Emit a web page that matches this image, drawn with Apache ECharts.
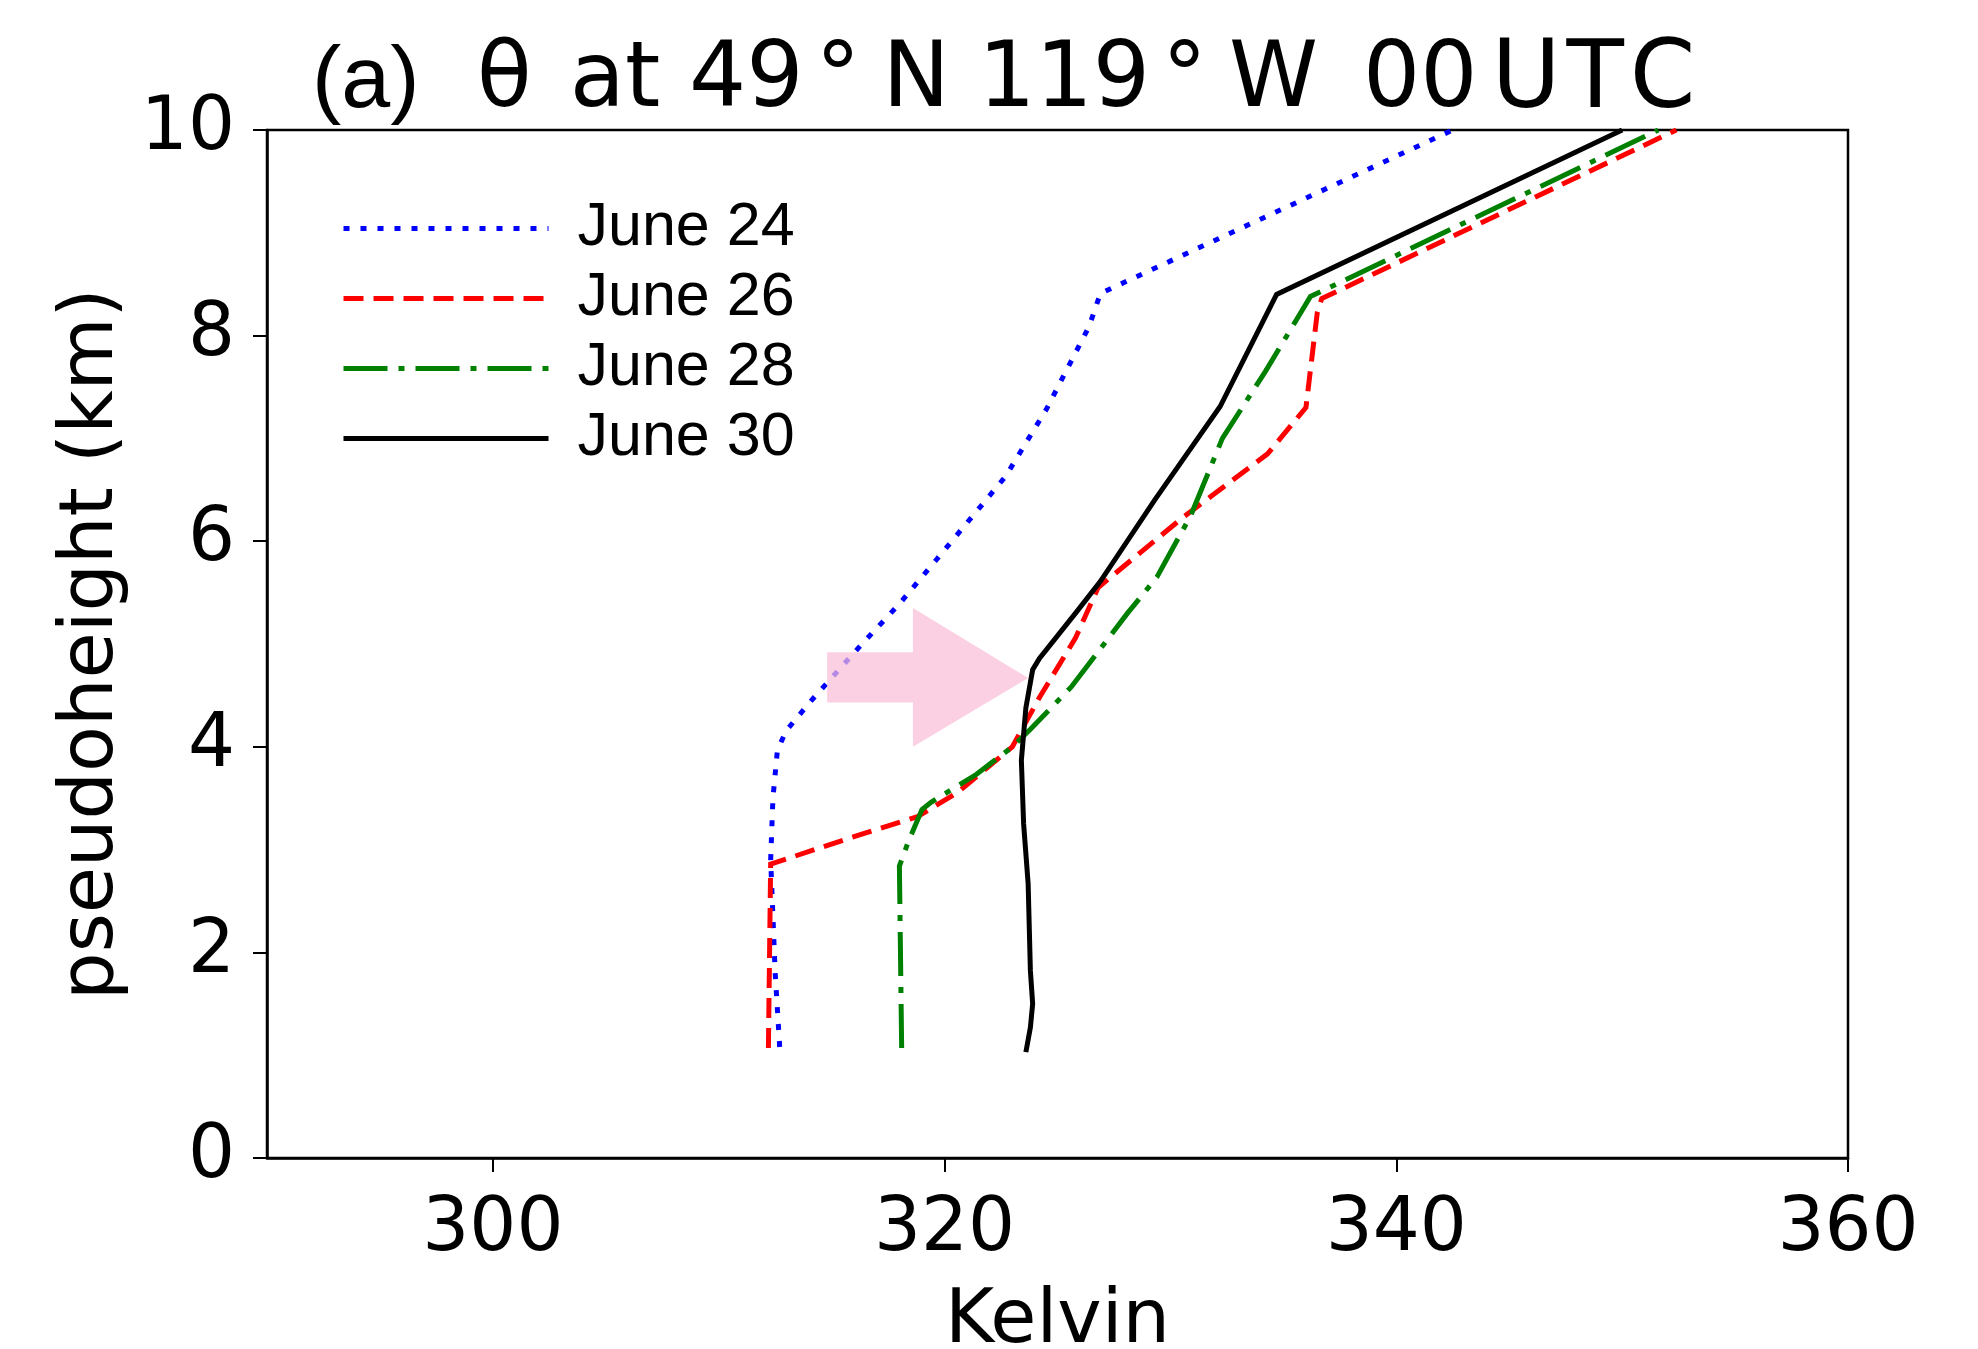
<!DOCTYPE html>
<html>
<head>
<meta charset="utf-8">
<script src="https://cdn.jsdelivr.net/npm/echarts@6/dist/echarts.min.js"></script>
<style>
html,body{margin:0;padding:0;background:#fff;}
#chart{width:1978px;height:1349px;}
</style>
</head>
<body>
<div id="chart"></div>
<script>
// Potential temperature (K) vs pseudoheight (km)
const seriesNames = ['June 24', 'June 26', 'June 28', 'June 30'];
const xTicks = [300, 320, 340, 360];
const june24 = [[312.7,1.08],[312.5,1.8],[312.3,2.9],[312.4,3.5],[312.6,3.97],[313.0,4.16],[314.1,4.45],[316.3,4.99],[318.0,5.39],[319.6,5.81],[322.7,6.63],[324.5,7.28],[326.4,8.09],[326.9,8.41],[342.5,10.0]];
const june26 = [[312.2,1.07],[312.3,2.86],[312.6,2.88],[315.9,3.12],[318.8,3.32],[320.6,3.56],[323.0,4.0],[324.2,4.48],[325.8,5.06],[326.8,5.55],[330.6,6.24],[334.3,6.85],[336.0,7.3],[336.5,8.22],[336.7,8.36],[352.4,10.0]];
const june28 = [[318.1,1.07],[318.0,2.84],[318.4,3.08],[319.0,3.39],[319.4,3.46],[321.4,3.73],[323.0,4.0],[323.8,4.17],[325.6,4.58],[328.1,5.3],[329.4,5.65],[330.9,6.25],[332.3,7.0],[334.2,7.65],[336.2,8.38],[351.6,10.0]];
const june30 = [[323.6,1.03],[323.8,1.27],[323.9,1.5],[323.8,1.82],[323.7,2.67],[323.5,3.25],[323.4,3.87],[323.6,4.38],[323.9,4.75],[324.2,4.86],[325.8,5.3],[326.9,5.61],[329.3,6.4],[332.2,7.31],[334.7,8.4],[350.0,10.0]];
// highlight arrow outline in data units (K, km)
const arrowShape = [[314.8,4.92],[318.6,4.92],[318.6,5.35],[323.7,4.67],[318.6,4.0],[318.6,4.43],[314.8,4.43]];

const chart = echarts.init(document.getElementById('chart'));
const lw = 5;
function lineSeries(name, data, color, dash, z) {
  return {
    name: name, type: 'line', data: data, showSymbol: false, symbol: 'none',
    z: z, animation: false,
    lineStyle: { color: color, width: lw, type: dash, cap: 'butt', join: 'miter' },
    itemStyle: { color: color }
  };
}
function tok(pad, size) {
  return { fontFamily: 'DejaVu Sans', fontWeight: 'normal', fontSize: size || 90, lineHeight: 96, color: '#000', padding: [0, 0, 0, pad] };
}
chart.setOption({
  backgroundColor: '#ffffff',
  animation: false,
  title: {
    left: 312, top: 35, padding: 0,
    text: '{a|(a)}{b|  θ}{s1|at 49}{s2|°}{s3|N 119}{s2|°}{s4|W}{s5|00}{s6|U}{s7|T}{s7|C}',
    textStyle: {
      fontWeight: 'normal',
      rich: {
        a: { fontFamily: 'Liberation Sans', fontWeight: 'normal', fontSize: 88, lineHeight: 96, color: '#000' },
        b: tok(0),
        s1: tok(38),
        s2: tok(12),
        s3: tok(22),
        s4: tok(22),
        s5: tok(45),
        s6: tok(14, 94),
        s7: tok(6, 94)
      }
    }
  },
  legend: {
    data: seriesNames,
    orient: 'vertical', left: 341, top: 198, padding: 0,
    itemWidth: 205, itemHeight: 20, itemGap: 9,
    itemStyle: { opacity: 0, borderWidth: 0 },
    lineStyle: { width: 5 },
    textStyle: { fontFamily: 'Liberation Sans', fontSize: 61, lineHeight: 61, color: '#000', padding: [0,0,0,24] }
  },
  grid: { left: 267, right: 130, top: 130, bottom: 191, show: true, borderColor: '#000', borderWidth: 2.5, backgroundColor: 'transparent', outerBoundsMode: 'none', containLabel: false },
  xAxis: {
    type: 'value', min: 290, max: 360,
    name: 'Kelvin', nameLocation: 'middle', nameGap: 127,
    nameTextStyle: { fontFamily: 'DejaVu Sans', fontSize: 75, color: '#000' },
    axisLine: { show: true, lineStyle: { color: '#000', width: 2.5 } },
    axisTick: { show: true, length: 14, inside: false, customValues: xTicks, lineStyle: { color: '#000', width: 2 } },
    axisLabel: { show: true, customValues: xTicks, margin: 36, fontFamily: 'DejaVu Sans', fontSize: 74, color: '#000' },
    splitLine: { show: false }
  },
  yAxis: {
    type: 'value', min: 0, max: 10, interval: 2,
    name: 'pseudoheight (km)', nameLocation: 'middle', nameGap: 137,
    nameTextStyle: { fontFamily: 'DejaVu Sans', fontSize: 75, color: '#000' },
    axisLine: { show: true, lineStyle: { color: '#000', width: 2.5 } },
    axisTick: { show: true, length: 14, inside: false, lineStyle: { color: '#000', width: 2 } },
    axisLabel: { margin: 32, fontFamily: 'DejaVu Sans', fontSize: 74, color: '#000' },
    splitLine: { show: false }
  },
  series: [
    lineSeries('June 24', june24, '#0000ff', [6, 11], 3),
    lineSeries('June 26', june26, '#ff0000', [20, 10], 4),
    lineSeries('June 28', june28, '#008000', [44, 11, 6, 11], 5),
    lineSeries('June 30', june30, '#000000', 'solid', 6),
    {
      type: 'custom', name: 'arrow', z: 10, silent: true, animation: false,
      data: [[arrowShape[3][0], arrowShape[3][1]]],
      renderItem: function (params, api) {
        const pts = arrowShape.map(function (p) { return api.coord(p); });
        return { type: 'polygon', shape: { points: pts }, style: { fill: 'rgba(250,190,216,0.72)', stroke: null } };
      }
    }
  ]
});
</script>
</body>
</html>
